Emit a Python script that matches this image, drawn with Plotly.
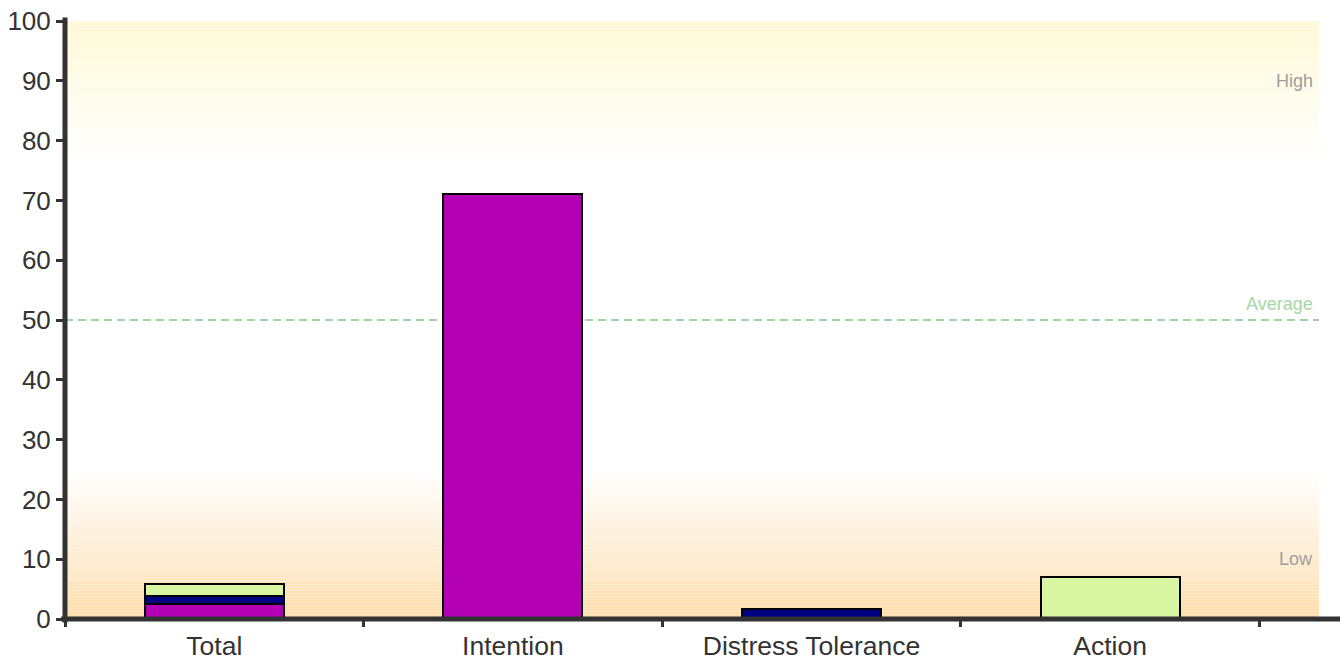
import plotly.graph_objects as go

# Category labels and stacked series values
categories = ["Total", "Intention", "Distress Tolerance", "Action"]
intention = [2.5, 71.0, None, None]
distress = [1.4, None, 1.7, None]
action = [2.0, None, None, 7.0]

average_level = 50
band_labels = ["High", "Average", "Low"]
band_label_values = [90, 52.7, 10]

X_MIN, X_MAX = -0.5, 3.77
BAND_END = 3.70

fig = go.Figure()
series = [
    ("Intention", intention, "#b400b4"),
    ("Distress Tolerance", distress, "#000080"),
    ("Action", action, "#d9f6a3"),
]
for name, vals, col in series:
    fig.add_trace(go.Bar(
        x=categories, y=vals, name=name, width=0.465,
        marker=dict(color=col, line=dict(color="#000000", width=2)),
    ))

# Gradient background bands built from thin stripes
def mix(c1, c2, t):
    return "rgb(%d,%d,%d)" % tuple(round(a + (b - a) * t) for a, b in zip(c1, c2))

shapes = []
n = 100
top_col = (255, 248, 212)
bot_col = (254, 220, 170)
white = (255, 255, 255)
# upper "High" band: 100 -> 76
for i in range(n):
    y_hi = 100 - 24 * i / n
    y_lo = 100 - 24 * (i + 1) / n
    shapes.append(dict(type="rect", xref="x", yref="y", x0=X_MIN, x1=BAND_END,
                       y0=y_lo, y1=y_hi,
                       fillcolor=mix(top_col, white, (i + 0.5) / n), line=dict(width=0),
                       layer="below"))
# lower "Low" band: 0 -> 25
for i in range(n):
    y_lo = 25 * i / n
    y_hi = 25 * (i + 1) / n
    shapes.append(dict(type="rect", xref="x", yref="y", x0=X_MIN, x1=BAND_END,
                       y0=y_lo, y1=y_hi,
                       fillcolor=mix(bot_col, white, (i + 0.5) / n), line=dict(width=0),
                       layer="below"))
# average reference line (behind the bars)
shapes.append(dict(type="line", xref="x", yref="y", x0=X_MIN, x1=BAND_END,
                   y0=average_level, y1=average_level,
                   line=dict(color="#9fd4a1", width=2, dash="8px,5px"), layer="below"))
# axis lines, drawn centred on the plot edges
shapes.append(dict(type="line", xref="paper", yref="paper", x0=-0.003, x1=1.0, y0=0, y1=0,
                   line=dict(color="#333333", width=5), layer="above"))
shapes.append(dict(type="line", xref="paper", yref="paper", x0=0, x1=0, y0=-0.006, y1=1.006,
                   line=dict(color="#333333", width=5), layer="above"))

label_colors = ["#9e9e9e", "#a5d6a7", "#9e9e9e"]
annotations = []
for txt, yv, col in zip(band_labels, band_label_values, label_colors):
    annotations.append(dict(x=BAND_END - 0.015, y=yv, xref="x", yref="y", text=txt,
                            showarrow=False, xanchor="right", yanchor="middle",
                            font=dict(size=18, color=col, family="Liberation Sans, Arial")))

fig.update_layout(
    width=1344, height=660,
    barmode="stack",
    showlegend=False,
    plot_bgcolor="#ffffff",
    paper_bgcolor="#ffffff",
    margin=dict(l=65, r=4, t=21, b=41),
    shapes=shapes,
    annotations=annotations,
    font=dict(family="Liberation Sans, Arial", size=26, color="#333333"),
    xaxis=dict(
        range=[X_MIN, X_MAX], showgrid=False, zeroline=False, showline=False,
        automargin=False,
        ticks="outside", tickson="boundaries", ticklen=7, tickwidth=3, tickcolor="#333333",
        ticklabelstandoff=8,
        tickfont=dict(size=26.5, color="#333333"),
    ),
    yaxis=dict(
        range=[0, 100], dtick=10, showgrid=False, zeroline=False, showline=False,
        automargin=False,
        ticks="outside", ticklen=8, tickwidth=3, tickcolor="#333333",
        tickfont=dict(size=26, color="#333333"),
    ),
)

fig.write_html("out.html")
